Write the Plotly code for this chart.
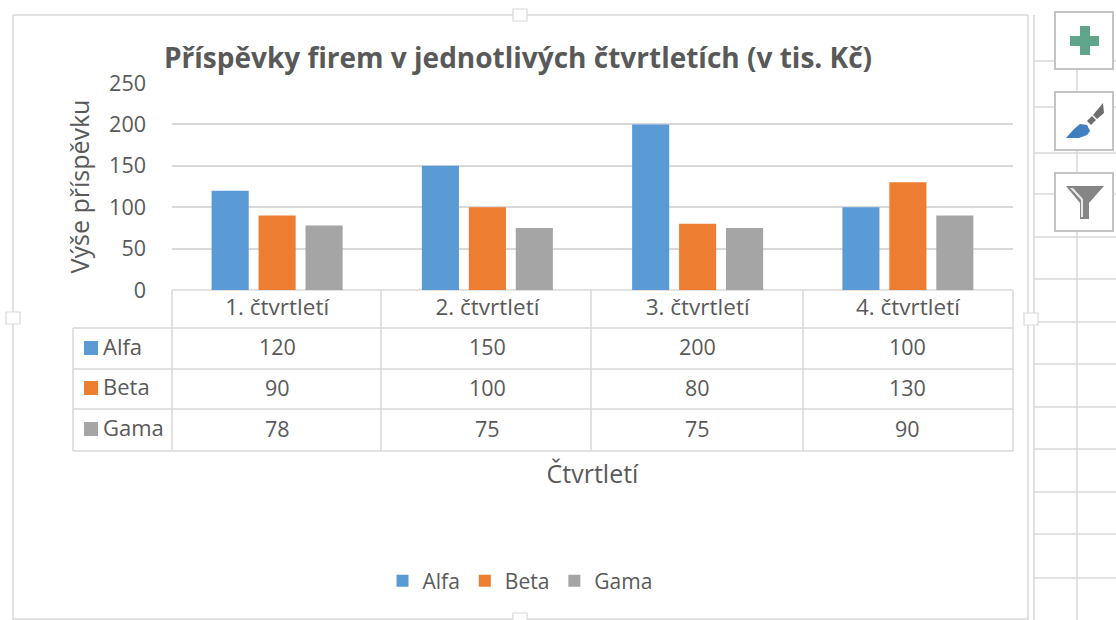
import plotly.graph_objects as go

W, H = 1116, 620
MT, MB = 18, 18
categories = ["1. čtvrtletí", "2. čtvrtletí", "3. čtvrtletí", "4. čtvrtletí"]
alfa = [120, 150, 200, 100]
beta = [90, 100, 80, 130]
gama = [78, 75, 75, 90]
series_names = ["Alfa", "Beta", "Gama"]
colors = ["#5B9BD5", "#ED7D31", "#A5A5A5"]
TEXT = "#595959"
LINE = "#D9D9D9"
FONT = "Open Sans"

def px(x): return x / W
def py(y): return 1 - (y - MT) / (H - MT - MB)

fig = go.Figure()
for name, vals, col in zip(series_names, [alfa, beta, gama], colors):
    fig.add_bar(x=categories, y=vals, name=name, marker_color=col, marker_line_width=0)

shapes = []
def line(x0, y0, x1, y1, color=LINE, width=1.5):
    shapes.append(dict(type="line", xref="paper", yref="paper", x0=px(x0), y0=py(y0), x1=px(x1), y1=py(y1),
                       line=dict(color=color, width=width), layer="below"))
def rect(x0, y0, x1, y1, fill="white", color=LINE, width=1.5, layer="above"):
    shapes.append(dict(type="rect", xref="paper", yref="paper", x0=px(x0), y0=py(y0), x1=px(x1), y1=py(y1),
                       fillcolor=fill, line=dict(color=color, width=width), layer=layer))
def poly(points, fill, layer="above"):
    path = "M " + " L ".join(f"{px(x):.5f},{py(y):.5f}" for x, y in points) + " Z"
    shapes.append(dict(type="path", xref="paper", yref="paper", path=path, fillcolor=fill,
                       line=dict(width=0), layer=layer))

# worksheet grid behind the chart object
for gy in [61, 107, 153, 194, 237, 279, 322, 364, 407, 449, 492, 534, 578]:
    line(1034, gy, 1116, gy)
line(1077, 12, 1077, 620)
line(1034, 15, 1034, 620)
# chart frame
line(13, 15, 1028, 15)
line(13, 15, 13, 620)
line(1028, 15, 1028, 620)
line(13, 619, 1028, 619)
for cx, cy in [(520, 15), (13, 318), (1031, 319), (520, 619)]:
    rect(cx - 7, cy - 6, cx + 7, cy + 6, width=1.2)

# data table
table_x = [172, 381, 591, 803, 1013]
table_y = [290, 328, 369, 409, 451]
for gy in table_y[1:]:
    line(73, gy, 1013, gy)
line(172, 290, 1013, 290)
for gx in table_x:
    line(gx, 290, gx, 451)
line(73, 328, 73, 451)

# ribbon buttons
for y0, y1 in [(12, 69), (92, 150), (173, 231)]:
    rect(1055, y0, 1113, y1, color="#C4C4C4", width=2)
poly([(1080, 26), (1090, 26), (1090, 36), (1099, 36), (1099, 46), (1090, 46), (1090, 55), (1080, 55),
      (1080, 46), (1070, 46), (1070, 36), (1080, 36)], "#5FA58A")
poly([(1103, 103), (1104, 113), (1097, 119), (1093, 115)], "#6E6E6E")
poly([(1092, 116), (1096, 120), (1091, 125), (1087, 121)], "#6E6E6E")
poly([(1066, 138), (1074, 129), (1080, 124), (1087, 125), (1090, 131), (1087, 135), (1079, 138)], "#3F7FC1")
poly([(1066, 186), (1104, 186), (1089, 203), (1089, 219), (1080, 219), (1080, 203)], "#858585")
poly([(1070, 188), (1081, 200), (1081, 217), (1083, 217), (1083, 199), (1073, 188)], "#E8E8E8")

annotations = []
def text(x, y, s, size=22, xanchor="center", color=TEXT, **kw):
    annotations.append(dict(x=px(x), y=py(y), xref="paper", yref="paper", text=s, showarrow=False,
                            xanchor=xanchor, yanchor="middle",
                            font=dict(family=FONT, size=size, color=color), **kw))

row_y = [346, 386, 427]
val_y = [346, 387, 428]
key_y = [348, 388, 429]
for name, col, ty, vy, ky, vals in zip(series_names, colors, row_y, val_y, key_y, [alfa, beta, gama]):
    rect(84, ky - 7, 98, ky + 7, fill=col, color=col, width=0)
    text(101, ty, name, size=22, xanchor="left")
    for i, v in enumerate(vals):
        annotations.append(dict(x=categories[i], y=py(vy), xref="x", yref="paper", text=str(v),
                                showarrow=False, yanchor="middle",
                                font=dict(family=FONT, size=21.5, color=TEXT)))

fig.update_layout(
    width=W, height=H, autosize=False,
    margin=dict(l=0, r=0, t=MT, b=MB),
    paper_bgcolor="white", plot_bgcolor="white",
    font=dict(family=FONT, color=TEXT, size=18),
    title=dict(text="<b>Příspěvky firem v jednotlivých čtvrtletích (v tis. Kč)</b>",
               x=518 / W, xanchor="center", y=1 - 58 / H, yanchor="middle",
               font=dict(family=FONT, size=28, color=TEXT)),
    barmode="group", bargap=0.33, bargroupgap=0.21,
    showlegend=True,
    legend=dict(orientation="h", x=520 / W, xanchor="center", y=py(581), yanchor="middle",
                font=dict(family=FONT, size=21, color=TEXT), itemwidth=30, traceorder="normal"),
    xaxis=dict(domain=[px(172), px(1013)], showgrid=False, ticks="", showline=False,
               tickfont=dict(family=FONT, size=22.5, color=TEXT), ticklabelstandoff=1,
               title=dict(text="Čtvrtletí", standoff=144, font=dict(family=FONT, size=25, color=TEXT))),
    yaxis=dict(domain=[py(290), py(83)], range=[0, 250], tick0=0, dtick=50, gridcolor=LINE, gridwidth=1.5,
               zeroline=False, ticks="", ticklabelstandoff=25,
               tickfont=dict(family=FONT, size=21.5, color=TEXT),
               title=dict(text="Výše příspěvku", standoff=12, font=dict(family=FONT, size=25, color=TEXT))),
    shapes=shapes, annotations=annotations,
)
fig.write_html("out.html", config=dict(displayModeBar=False),
               post_script="document.body.style.margin='0';document.documentElement.style.overflow='hidden';")
